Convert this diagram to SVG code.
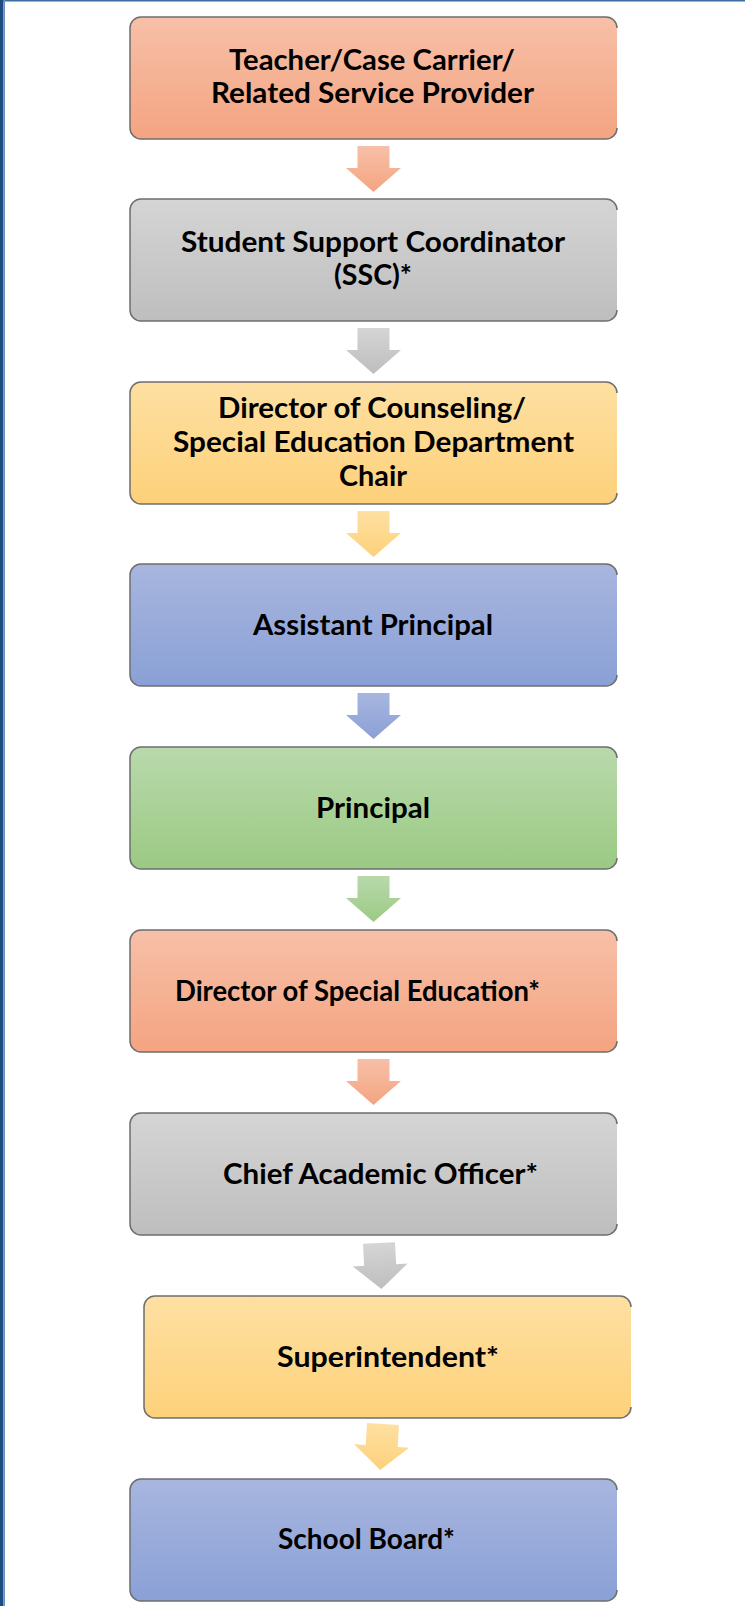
<svg xmlns="http://www.w3.org/2000/svg" width="745" height="1606" viewBox="0 0 745 1606">
  <defs>
    <linearGradient id="gSalmon" x1="0" y1="0" x2="0" y2="1">
      <stop offset="0" stop-color="#F7C0A8"/>
      <stop offset="1" stop-color="#F4A481"/>
    </linearGradient>
    <linearGradient id="gGray" x1="0" y1="0" x2="0" y2="1">
      <stop offset="0" stop-color="#D5D5D5"/>
      <stop offset="1" stop-color="#BEBEBE"/>
    </linearGradient>
    <linearGradient id="gYellow" x1="0" y1="0" x2="0" y2="1">
      <stop offset="0" stop-color="#FEE0A2"/>
      <stop offset="1" stop-color="#FDD17A"/>
    </linearGradient>
    <linearGradient id="gBlue" x1="0" y1="0" x2="0" y2="1">
      <stop offset="0" stop-color="#A8B6DF"/>
      <stop offset="1" stop-color="#8AA0D6"/>
    </linearGradient>
    <linearGradient id="gGreen" x1="0" y1="0" x2="0" y2="1">
      <stop offset="0" stop-color="#B9D9AC"/>
      <stop offset="1" stop-color="#9BCA83"/>
    </linearGradient>
    <path id="arrow" d="M-16,0 H16 V22 H27.5 L0,46 L-27.5,22 H-16 Z"/>
  </defs>
  <style>
    .box { stroke: none; }
    .edge { fill: none; stroke: #6E6E6E; stroke-width: 1.5; }
    .lbl { font-family: Lato, "Open Sans", "Liberation Sans", sans-serif; font-weight: 700; font-size: 28px; fill: #000000; text-anchor: middle; }
  </style>

  <rect x="0" y="0" width="745" height="1606" fill="#FFFFFF"/>
  <!-- frame -->
  <rect x="0" y="0" width="745" height="1.5" fill="#3D6CA3"/>
  <rect x="0" y="0" width="3.5" height="1606" fill="#1F4C80"/>
  <rect x="3.5" y="0" width="1.5" height="1606" fill="#6A93C4"/>

  <g id="connectors">
    <use href="#arrow" transform="translate(373.5,146)" fill="url(#gSalmon)"/>
    <use href="#arrow" transform="translate(373.5,328)" fill="url(#gGray)"/>
    <use href="#arrow" transform="translate(373.5,511)" fill="url(#gYellow)"/>
    <use href="#arrow" transform="translate(373.5,693)" fill="url(#gBlue)"/>
    <use href="#arrow" transform="translate(373.5,876)" fill="url(#gGreen)"/>
    <use href="#arrow" transform="translate(373.5,1059)" fill="url(#gSalmon)"/>
    <use href="#arrow" transform="translate(379,1243) rotate(-3)" fill="url(#gGray)"/>
    <use href="#arrow" transform="translate(383,1424) rotate(3.5)" fill="url(#gYellow)"/>
  </g>

  <g id="n1">
    <rect class="box" x="130" y="17" width="487" height="122" rx="11" fill="url(#gSalmon)"/>
    <path class="edge" d="M617,28 A11,11 0 0 0 606,17 H141 A11,11 0 0 0 130,28 V128 A11,11 0 0 0 141,139 H606 A11,11 0 0 0 617,128"/>
    <text class="lbl" x="372" y="70" textLength="286" lengthAdjust="spacingAndGlyphs">Teacher/Case Carrier/</text>
    <text class="lbl" x="372.5" y="103" textLength="323" lengthAdjust="spacingAndGlyphs">Related Service Provider</text>
  </g>

  <g id="n2">
    <rect class="box" x="130" y="199" width="487" height="122" rx="11" fill="url(#gGray)"/>
    <path class="edge" d="M617,210 A11,11 0 0 0 606,199 H141 A11,11 0 0 0 130,210 V310 A11,11 0 0 0 141,321 H606 A11,11 0 0 0 617,310"/>
    <text class="lbl" x="373" y="252" textLength="384" lengthAdjust="spacingAndGlyphs">Student Support Coordinator</text>
    <text class="lbl" x="373" y="285" textLength="78" lengthAdjust="spacingAndGlyphs">(SSC)*</text>
  </g>

  <g id="n3">
    <rect class="box" x="130" y="382" width="487" height="122" rx="11" fill="url(#gYellow)"/>
    <path class="edge" d="M617,393 A11,11 0 0 0 606,382 H141 A11,11 0 0 0 130,393 V493 A11,11 0 0 0 141,504 H606 A11,11 0 0 0 617,493"/>
    <text class="lbl" x="372" y="417.5" textLength="308" lengthAdjust="spacingAndGlyphs">Director of Counseling/</text>
    <text class="lbl" x="373.5" y="451.5" textLength="401" lengthAdjust="spacingAndGlyphs">Special Education Department</text>
    <text class="lbl" x="373" y="485.5" textLength="68" lengthAdjust="spacingAndGlyphs">Chair</text>
  </g>

  <g id="n4">
    <rect class="box" x="130" y="564" width="487" height="122" rx="11" fill="url(#gBlue)"/>
    <path class="edge" d="M617,575 A11,11 0 0 0 606,564 H141 A11,11 0 0 0 130,575 V675 A11,11 0 0 0 141,686 H606 A11,11 0 0 0 617,675"/>
    <text class="lbl" x="373" y="634.5" textLength="240" lengthAdjust="spacingAndGlyphs">Assistant Principal</text>
  </g>

  <g id="n5">
    <rect class="box" x="130" y="747" width="487" height="122" rx="11" fill="url(#gGreen)"/>
    <path class="edge" d="M617,758 A11,11 0 0 0 606,747 H141 A11,11 0 0 0 130,758 V858 A11,11 0 0 0 141,869 H606 A11,11 0 0 0 617,858"/>
    <text class="lbl" x="373" y="817.5" textLength="114" lengthAdjust="spacingAndGlyphs">Principal</text>
  </g>

  <g id="n6">
    <rect class="box" x="130" y="930" width="487" height="122" rx="11" fill="url(#gSalmon)"/>
    <path class="edge" d="M617,941 A11,11 0 0 0 606,930 H141 A11,11 0 0 0 130,941 V1041 A11,11 0 0 0 141,1052 H606 A11,11 0 0 0 617,1041"/>
    <text class="lbl" x="357.5" y="1000.5" textLength="365" lengthAdjust="spacingAndGlyphs">Director of Special Education*</text>
  </g>

  <g id="n7">
    <rect class="box" x="130" y="1113" width="487" height="122" rx="11" fill="url(#gGray)"/>
    <path class="edge" d="M617,1124 A11,11 0 0 0 606,1113 H141 A11,11 0 0 0 130,1124 V1224 A11,11 0 0 0 141,1235 H606 A11,11 0 0 0 617,1224"/>
    <text class="lbl" x="380.5" y="1183.5" textLength="315" lengthAdjust="spacingAndGlyphs">Chief Academic Officer*</text>
  </g>

  <g id="n8">
    <rect class="box" x="144" y="1296" width="487" height="122" rx="11" fill="url(#gYellow)"/>
    <path class="edge" d="M631,1307 A11,11 0 0 0 620,1296 H155 A11,11 0 0 0 144,1307 V1407 A11,11 0 0 0 155,1418 H620 A11,11 0 0 0 631,1407"/>
    <text class="lbl" x="388" y="1366.5" textLength="222" lengthAdjust="spacingAndGlyphs">Superintendent*</text>
  </g>

  <g id="n9">
    <rect class="box" x="130" y="1479" width="487" height="122" rx="11" fill="url(#gBlue)"/>
    <path class="edge" d="M617,1490 A11,11 0 0 0 606,1479 H141 A11,11 0 0 0 130,1490 V1590 A11,11 0 0 0 141,1601 H606 A11,11 0 0 0 617,1590"/>
    <text class="lbl" x="366.5" y="1548.5" textLength="177" lengthAdjust="spacingAndGlyphs">School Board*</text>
  </g>
</svg>
